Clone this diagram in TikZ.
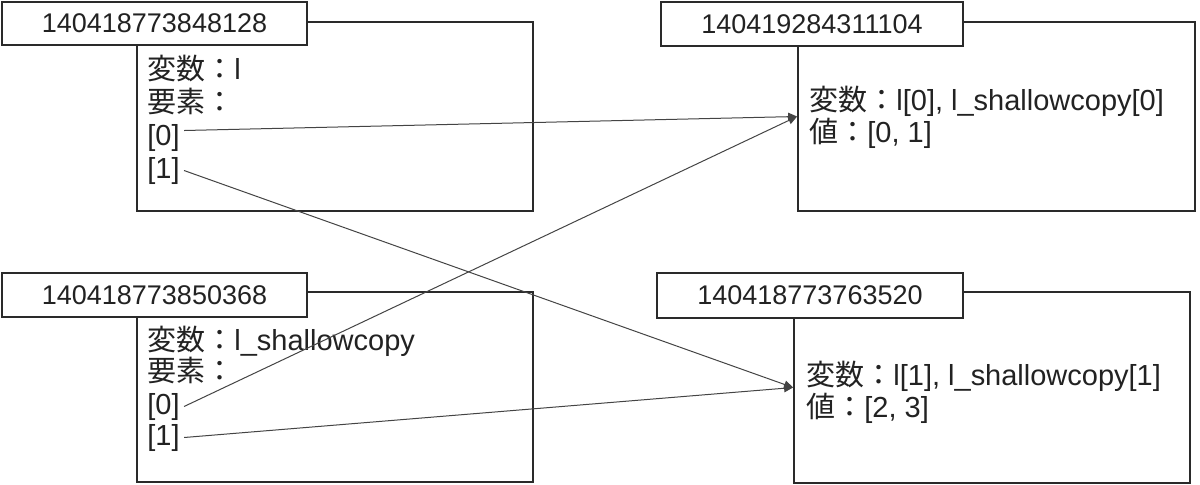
\documentclass[tikz,border=0pt]{standalone}
\usepackage{fontspec}
\setmainfont{Liberation Sans}
\newfontfamily\cjk{Noto Sans CJK JP}
\usetikzlibrary{arrows.meta}
\definecolor{ink}{HTML}{222222}
\definecolor{edgec}{HTML}{2A2A2A}
\definecolor{wirec}{HTML}{444444}
\begin{document}
\begin{tikzpicture}[x=0.5pt,y=-0.5pt,
  membox/.style={draw=edgec,line width=0.9pt,fill=white,inner sep=0pt},
  idbox/.style={draw=edgec,line width=0.9pt,fill=white,inner sep=0pt,text=ink,
    font=\fontsize{13.5}{16}\selectfont},
  line/.style={inner sep=0pt,anchor=base west,text=ink,font=\fontsize{14.5}{17}\selectfont},
  wire/.style={draw=wirec,line width=0.5pt,-{Triangle[length=4.5pt,width=4pt]}}
]
\useasboundingbox (0,0) rectangle (1200,484);

% big boxes
\node[membox,minimum width=198pt,minimum height=94.5pt] (Abox) at (335,116.5) {};
\node[membox,minimum width=198.5pt,minimum height=94.5pt] (Bbox) at (996.5,116.5) {};
\node[membox,minimum width=198pt,minimum height=95pt] (Cbox) at (335,387) {};
\node[membox,minimum width=198pt,minimum height=95.5pt] (Dbox) at (992,387.5) {};

% id labels
\node[idbox,minimum width=152.5pt,minimum height=21.5pt] (Aid) at (154.5,23.5) {140418773848128};
\node[idbox,minimum width=151pt,minimum height=22pt] (Bid) at (812,24) {140419284311104};
\node[idbox,minimum width=152.5pt,minimum height=22pt] (Cid) at (154.5,295) {140418773850368};
\node[idbox,minimum width=153pt,minimum height=22.5pt] (Did) at (810,295.5) {140418773763520};

% box A text
\node[line] (Av) at (147,79) {{\cjk 変数：}l};
\node[line] (Ae) at (147,112) {{\cjk 要素：}};
\node[line] (A0) at (147,145) {[0]};
\node[line] (A1) at (147,178) {[1]};

% box C text
\node[line] (Cv) at (147,350) {{\cjk 変数：}l\_shallowcopy};
\node[line] (Ce) at (147,381) {{\cjk 要素：}};
\node[line] (C0) at (147,414) {[0]};
\node[line] (C1) at (147,445) {[1]};

% box B text
\node[line] (Bv) at (809,110) {{\cjk 変数：}l[0], l\_shallowcopy[0]};
\node[line] (Bw) at (809,142) {{\cjk 値：}[0, 1]};

% box D text
\node[line] (Dv) at (806,385) {{\cjk 変数：}l[1], l\_shallowcopy[1]};
\node[line] (Dw) at (806,417) {{\cjk 値：}[2, 3]};

% connectors
\draw[wire] ([xshift=2pt,yshift=3.5pt]A0.east) -- (Bbox.west);
\draw[wire] ([xshift=2pt]C0.east) -- (Bbox.west);
\draw[wire] ([xshift=2pt]A1.east) -- (Dbox.west);
\draw[wire] ([xshift=2pt]C1.east) -- (Dbox.west);
\end{tikzpicture}
\end{document}
